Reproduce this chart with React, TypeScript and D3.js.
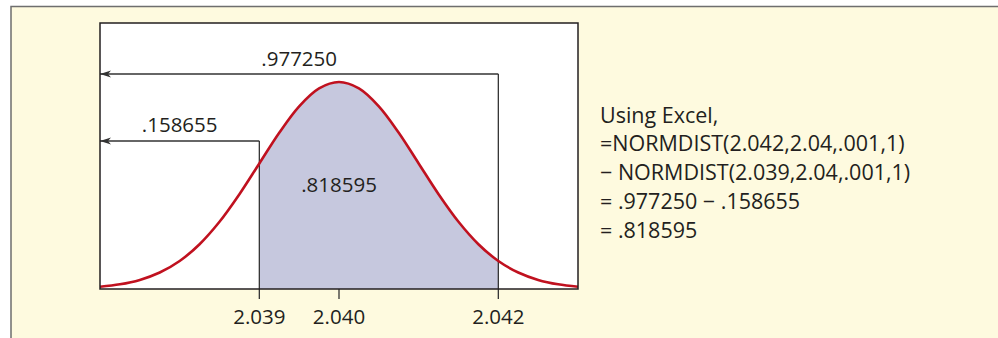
import React from "react";
import * as d3 from "d3";

// Normal distribution N(2.040, 0.001): x positions and density heights
const xValues = [
  2.037, 2.03725, 2.0375, 2.03775, 2.038, 2.03825, 2.0385, 2.03875, 2.039, 2.03925, 2.0395, 2.03975,
  2.04, 2.04025, 2.0405, 2.04075, 2.041, 2.04125, 2.0415, 2.04175, 2.042, 2.04225, 2.0425, 2.04275, 2.043,
];
const densityValues = [
  4.43, 9.08, 17.53, 31.74, 53.99, 86.28, 129.52, 182.65, 241.97, 301.14, 352.07, 386.67,
  398.94, 386.67, 352.07, 301.14, 241.97, 182.65, 129.52, 86.28, 53.99, 31.74, 17.53, 9.08, 4.43,
];
const lowerBound = 2.039;
const upperBound = 2.042;
const meanValue = 2.04;
const tickValues = [2.039, 2.04, 2.042];
const tickLabels = ["2.039", "2.040", "2.042"];
const upperCumLabel = ".977250";
const lowerCumLabel = ".158655";
const areaLabel = ".818595";
const noteLines = [
  "Using Excel,",
  "=NORMDIST(2.042,2.04,.001,1)",
  "\u2212 NORMDIST(2.039,2.04,.001,1)",
  "= .977250 \u2212 .158655",
  "= .818595",
];

const FONT = "'Open Sans', 'DejaVu Sans', sans-serif";
const INK = "#231f20";

export default function App() {
  const plotL = 100,
    plotR = 578,
    plotT = 23,
    plotB = 289;
  const x = d3.scaleLinear().domain([xValues[0], xValues[xValues.length - 1]]).range([plotL, plotR]);
  const y = d3.scaleLinear().domain([0, d3.max(densityValues)!]).range([plotB, 82]);
  const pts = xValues.map((v, i) => [v, densityValues[i]] as [number, number]);
  const line = d3
    .line<[number, number]>()
    .x((d) => x(d[0]))
    .y((d) => y(d[1]))
    .curve(d3.curveCatmullRom);
  const area = d3
    .area<[number, number]>()
    .x((d) => x(d[0]))
    .y0(y(0))
    .y1((d) => y(d[1]))
    .curve(d3.curveCatmullRom);
  const shaded = pts.filter((d) => d[0] >= lowerBound - 1e-9 && d[0] <= upperBound + 1e-9);

  const upperY = 74;
  const lowerY = 141;
  const xU = x(upperBound);
  const xLo = x(lowerBound);

  const arrowHead = (yy: number) =>
    `M${plotL},${yy} L${plotL + 11},${yy - 3.5} L${plotL + 8},${yy} L${plotL + 11},${yy + 3.5} Z`;

  return (
    <div style={{ position: "absolute", left: 0, top: 0, width: 998, height: 338, background: "#fff" }}>
      <svg width={998} height={338} style={{ display: "block" }}>
        <rect x={11} y={6.5} width={990} height={335} fill="#fefadf" stroke="#6e6e6e" strokeWidth={1.5} />
        <rect x={plotL} y={plotT} width={plotR - plotL} height={plotB - plotT} fill="#fff" />
        <path d={area(shaded) || ""} fill="#c6c8de" />
        {/* annotation lines */}
        <g stroke="#333" strokeWidth={1.3} fill="none">
          <line x1={plotL} y1={upperY} x2={xU} y2={upperY} />
          <line x1={xU} y1={upperY} x2={xU} y2={plotB + 10} />
          <line x1={plotL} y1={lowerY} x2={xLo} y2={lowerY} />
          <line x1={xLo} y1={lowerY} x2={xLo} y2={plotB + 10} />
          <line x1={x(meanValue)} y1={plotB} x2={x(meanValue)} y2={plotB + 10} />
        </g>
        <path d={arrowHead(upperY)} fill="#333" />
        <path d={arrowHead(lowerY)} fill="#333" />
        <path d={line(pts) || ""} fill="none" stroke="#c0111f" strokeWidth={2.6} />
        <rect x={plotL} y={plotT} width={plotR - plotL} height={plotB - plotT} fill="none" stroke={INK} strokeWidth={1.5} />
        <g fontFamily={FONT} fontSize={20.5} fill={INK}>
          <text x={(plotL + xU) / 2} y={66} textAnchor="middle">
            {upperCumLabel}
          </text>
          <text x={(plotL + xLo) / 2} y={132} textAnchor="middle">
            {lowerCumLabel}
          </text>
          <text x={x(meanValue)} y={192} textAnchor="middle">
            {areaLabel}
          </text>
          {tickValues.map((t, i) => (
            <text key={t} x={x(t)} y={324} textAnchor="middle">
              {tickLabels[i]}
            </text>
          ))}
        </g>
        <g fontFamily={FONT} fontSize={21.5} fill={INK}>
          {noteLines.map((s, i) => (
            <text key={i} x={600} y={122.5 + i * 28.9}>
              {s}
            </text>
          ))}
        </g>
      </svg>
    </div>
  );
}
